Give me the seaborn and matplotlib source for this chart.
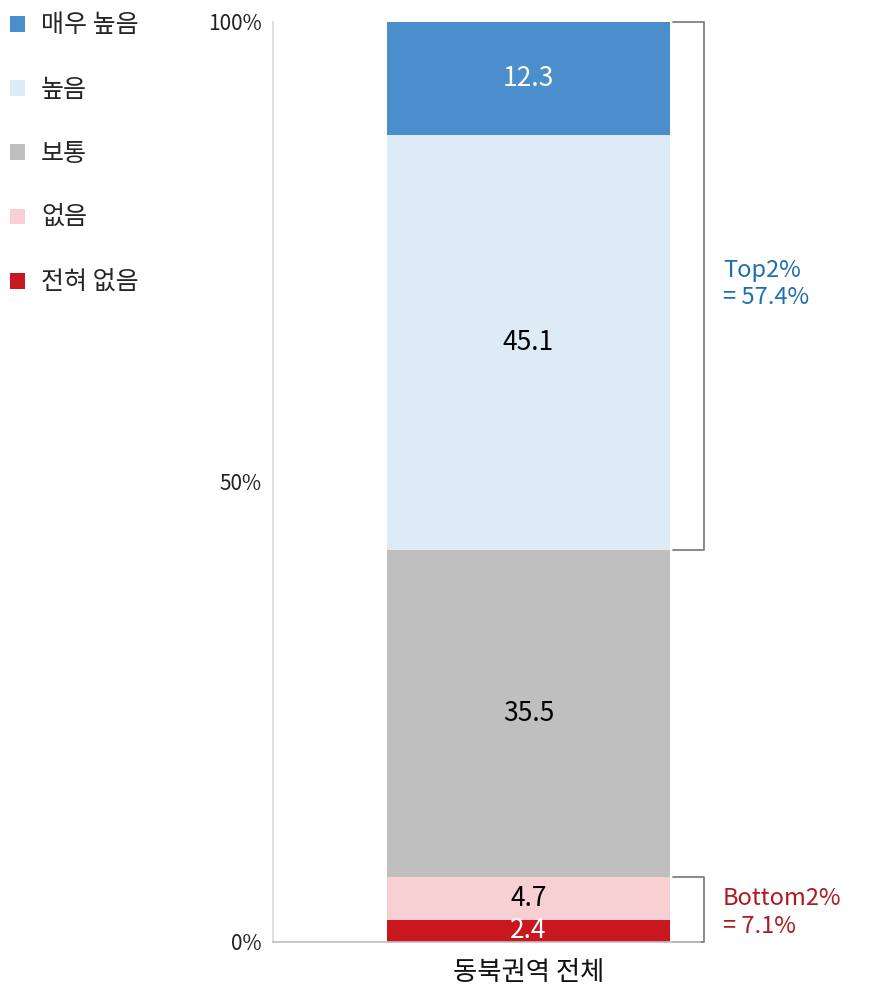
import matplotlib
matplotlib.use("Agg")
import matplotlib.pyplot as plt
from matplotlib.patches import Patch
import seaborn as sns
import pandas as pd
import numpy as np

categories = ["전혀 없음", "없음", "보통", "높음", "매우 높음"]
values = [2.4, 4.7, 35.5, 45.1, 12.3]
colors = ["#c8171e", "#f8cfd3", "#bfbfbf", "#ddebf7", "#4a8fcb"]
label_colors = ["white", "black", "black", "black", "white"]
group = "동북권역 전체"
yticks = [0, 50, 100]
ytick_labels = ["0%", "50%", "100%"]
top2_text = "Top2%\n= 57.4%"
bottom2_text = "Bottom2%\n= 7.1%"

sns.set_theme(style="white")
plt.rcParams['font.family'] = ['Noto Sans CJK KR', 'DejaVu Sans']

fig = plt.figure(figsize=(8.75, 9.94), dpi=100)
ax = fig.add_axes([273/875, 1-942/994, 427/875, 920/994])

cum = np.cumsum(values)
for i in range(len(values)-1, -1, -1):
    df = pd.DataFrame({"g": [group], "v": [cum[i]]})
    sns.barplot(data=df, x="g", y="v", color=colors[i], saturation=1,
                width=0.8, ax=ax, linewidth=0)

for i, v in enumerate(values):
    mid = cum[i] - v/2
    ax.text(0, mid, f"{v:.1f}", ha="center", va="center", fontsize=19,
            color=label_colors[i], fontweight="medium")

ax.set_ylim(0, 100)
ax.set_xlim(-0.722, 0.485)
ax.set_yticks(yticks)
ax.set_yticklabels(ytick_labels, fontsize=15, color="#222222")
ax.tick_params(axis="both", length=0)
ax.tick_params(axis="y", pad=8)
ax.set_xticks([0])
ax.set_xticklabels([group], fontsize=19, color="#111111", fontweight="medium")
ax.tick_params(axis="x", pad=12)
ax.set_xlabel("")
ax.set_ylabel("")
for s in ["top", "right"]:
    ax.spines[s].set_visible(False)
ax.spines["left"].set_color("#d9d9d9")
ax.spines["bottom"].set_color("#bfbfbf")
ax.spines["left"].set_linewidth(1.2)
ax.spines["bottom"].set_linewidth(1.2)

def bracket(y0, y1):
    xs = [0.41, 0.495, 0.495, 0.41]
    ys = [y1, y1, y0, y0]
    ax.plot(xs, ys, color="#808080", lw=1.3, clip_on=False)

bracket(cum[2], cum[4])
bracket(0, cum[1])

ax.text(0.55, 71.5, top2_text, ha="left", va="center", fontsize=17,
        color="#1f6fb0", linespacing=1.25)
ax.text(0.55, 3.2, bottom2_text, ha="left", va="center", fontsize=17,
        color="#b0191f", linespacing=1.3)

handles = [Patch(facecolor=colors[i], edgecolor="none") for i in range(len(values)-1, -1, -1)]
labels = [categories[i] for i in range(len(values)-1, -1, -1)]
fig.legend(handles, labels, loc="upper left", bbox_to_anchor=(-0.003, 1.0),
           frameon=False, fontsize=18, handlelength=0.6, handleheight=0.6,
           handletextpad=0.65, labelspacing=1.53, borderaxespad=0.3,
           borderpad=0.2)

fig.savefig("out.png", dpi=100)
